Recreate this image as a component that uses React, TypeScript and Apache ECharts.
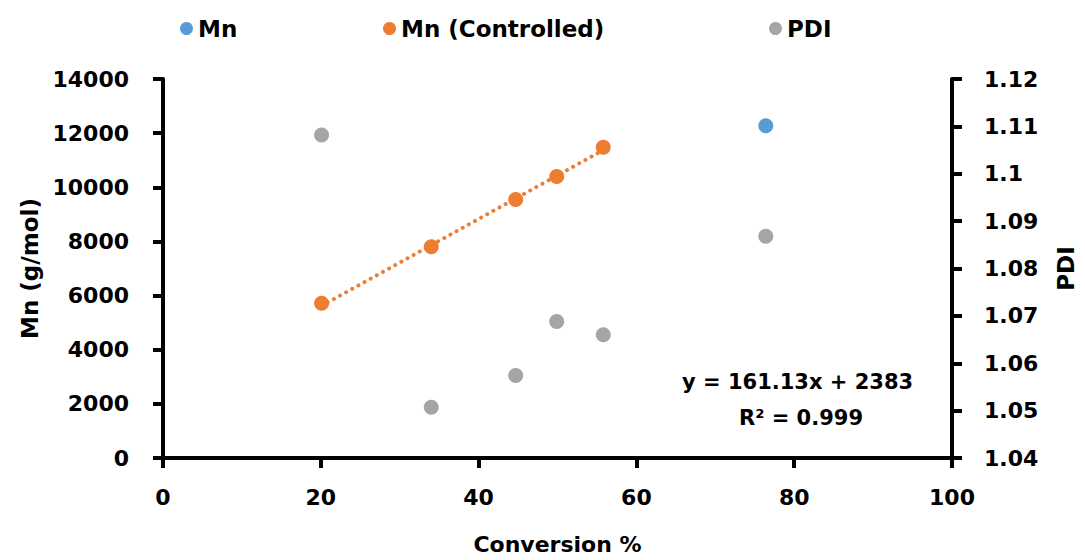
import React, { useEffect, useRef } from "react";
import * as echarts from "echarts";

const mnPoints: [number, number][] = [[76.4, 12270]];
const mnControlledPoints: [number, number][] = [
  [20.1, 5720],
  [34.0, 7800],
  [44.7, 9550],
  [49.9, 10400],
  [55.8, 11480],
];
const pdiPoints: [number, number][] = [
  [20.1, 1.1082],
  [34.0, 1.0507],
  [44.7, 1.0574],
  [49.9, 1.0688],
  [55.8, 1.066],
  [76.4, 1.0868],
];
const trendSlope = 161.13;
const trendIntercept = 2383;
const trendXRange = [20.1, 55.8];
const equationLines = ["y = 161.13x + 2383", "R² = 0.999"];

const FONT = "DejaVu Sans";
const BLACK = "#000000";

export default function App() {
  const ref = useRef<HTMLDivElement>(null);
  useEffect(() => {
    if (!ref.current) return;
    const chart = echarts.init(ref.current, undefined, { renderer: "svg" });
    const trendData = trendXRange.map((x) => [x, trendSlope * x + trendIntercept]);
    const axisCommon = {
      axisLine: { show: true, onZero: false, lineStyle: { color: BLACK, width: 4 } },
      axisTick: { show: true, inside: false, length: 10, lineStyle: { color: BLACK, width: 4 } },
      splitLine: { show: false },
    };
    const legendText = { fontFamily: FONT, fontWeight: "bold" as const, fontSize: 23, color: BLACK };
    const legendCommon = { top: 12, icon: "circle", itemWidth: 13, itemHeight: 13, textStyle: legendText };
    chart.setOption({
      animation: false,
      backgroundColor: "#ffffff",
      grid: { left: 163, right: 130, top: 79, bottom: 100 },
      legend: [
        { data: ["Mn"], left: 175, ...legendCommon },
        { data: ["Mn (Controlled)"], left: 378, ...legendCommon },
        { data: ["PDI"], left: 764, ...legendCommon },
      ],
      xAxis: {
        type: "value",
        min: 0,
        max: 100,
        interval: 20,
        ...axisCommon,
        axisLabel: { margin: 28, fontFamily: FONT, fontWeight: "bold", fontSize: 22, color: BLACK },
        name: "Conversion %",
        nameLocation: "middle",
        nameGap: 75,
        nameTextStyle: { fontFamily: FONT, fontWeight: "bold", fontSize: 22, color: BLACK },
      },
      yAxis: [
        {
          type: "value",
          min: 0,
          max: 14000,
          interval: 2000,
          position: "left",
          ...axisCommon,
          axisLabel: {
            margin: 34,
            fontFamily: FONT,
            fontWeight: "bold",
            fontSize: 22,
            color: BLACK,
            formatter: (v: number) => String(v),
          },
          name: "Mn (g/mol)",
          nameLocation: "middle",
          nameRotate: 90,
          nameGap: 122,
          nameTextStyle: { fontFamily: FONT, fontWeight: "bold", fontSize: 23, color: BLACK },
        },
        {
          type: "value",
          min: 1.04,
          max: 1.12,
          interval: 0.01,
          position: "right",
          ...axisCommon,
          axisLabel: {
            margin: 32,
            fontFamily: FONT,
            fontWeight: "bold",
            fontSize: 22,
            color: BLACK,
            formatter: (v: number) => String(parseFloat(v.toFixed(2))),
          },
          name: "PDI",
          nameLocation: "middle",
          nameRotate: 90,
          nameGap: 102,
          nameTextStyle: { fontFamily: FONT, fontWeight: "bold", fontSize: 23, color: BLACK },
        },
      ],
      series: [
        {
          name: "Mn (Controlled) trend",
          type: "line",
          data: trendData,
          showSymbol: false,
          symbol: "none",
          lineStyle: { color: "#ED7D31", width: 4, type: [0.01, 7], cap: "round" },
          silent: true,
          z: 1,
        },
        {
          name: "Mn",
          type: "scatter",
          data: mnPoints,
          symbolSize: 15,
          itemStyle: { color: "#5B9BD5", opacity: 1 },
          z: 3,
        },
        {
          name: "Mn (Controlled)",
          type: "scatter",
          data: mnControlledPoints,
          symbolSize: 15,
          itemStyle: { color: "#ED7D31", opacity: 1 },
          z: 3,
        },
        {
          name: "PDI",
          type: "scatter",
          yAxisIndex: 1,
          data: pdiPoints,
          symbolSize: 15,
          itemStyle: { color: "#A5A5A5", opacity: 1 },
          z: 3,
        },
      ],
      graphic: [
        {
          type: "text",
          left: 682,
          top: 371,
          style: { text: equationLines[0], fontFamily: FONT, fontWeight: "bold", fontSize: 21, fill: BLACK },
        },
        {
          type: "text",
          left: 739,
          top: 407,
          style: { text: equationLines[1], fontFamily: FONT, fontWeight: "bold", fontSize: 21, fill: BLACK },
        },
      ],
    });
    return () => chart.dispose();
  }, []);
  return (
    <div
      ref={ref}
      style={{ position: "fixed", left: 0, top: 0, width: 1085, height: 560, background: "#fff" }}
    />
  );
}
